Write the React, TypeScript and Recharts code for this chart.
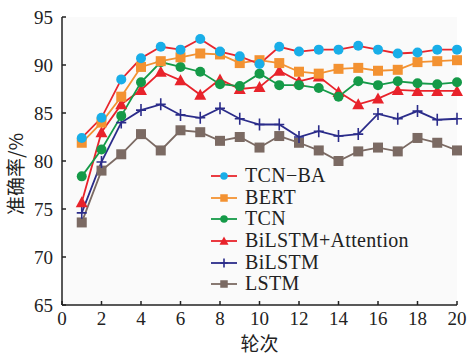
import { CartesianGrid, Line, LineChart, XAxis, YAxis } from "recharts";

// epochs on the x axis
const epochs = [1, 2, 3, 4, 5, 6, 7, 8, 9, 10, 11, 12, 13, 14, 15, 16, 17, 18, 19, 20];

// accuracy (%) per model
const tcnBa = [82.4, 84.5, 88.5, 90.7, 91.9, 91.6, 92.7, 91.4, 90.9, 90.1, 91.9, 91.4, 91.6, 91.6, 92.0, 91.6, 91.2, 91.3, 91.6, 91.6];
const bert = [81.9, 84.0, 86.7, 89.8, 90.4, 90.8, 91.2, 91.1, 90.2, 90.5, 90.2, 89.3, 89.1, 89.6, 89.7, 89.4, 89.5, 90.3, 90.4, 90.5];
const tcn = [78.4, 81.2, 84.7, 88.2, 90.3, 89.8, 89.3, 88.0, 87.8, 89.1, 87.9, 87.9, 87.6, 86.7, 88.3, 87.9, 88.3, 88.1, 88.0, 88.2];
const bilstmAtt = [75.7, 83.0, 85.9, 87.4, 89.3, 88.4, 86.9, 88.5, 87.5, 87.7, 89.4, 88.3, 88.8, 87.2, 85.9, 86.5, 87.4, 87.3, 87.3, 87.3];
const bilstm = [74.6, 79.9, 84.0, 85.3, 85.9, 84.8, 84.5, 85.5, 84.4, 83.8, 83.8, 82.5, 83.1, 82.6, 82.8, 84.9, 84.4, 85.2, 84.3, 84.4];
const lstm = [73.6, 79.0, 80.7, 82.8, 81.1, 83.2, 83.0, 82.1, 82.5, 81.4, 82.6, 81.9, 81.1, 80.0, 81.0, 81.4, 81.0, 82.4, 81.9, 81.1];

const xTicks = [0, 2, 4, 6, 8, 10, 12, 14, 16, 18, 20];
const yTicks = [65, 70, 75, 80, 85, 90, 95];

const data = epochs.map((e, i) => ({
  epoch: e,
  tcnBa: tcnBa[i],
  bert: bert[i],
  tcn: tcn[i],
  bilstmAtt: bilstmAtt[i],
  bilstm: bilstm[i],
  lstm: lstm[i],
}));

type Marker = "circle" | "square" | "triangle" | "plus";

type SeriesDef = {
  key: string;
  name: string;
  line: string;
  marker: Marker;
  markerColor: string;
};

// legend order (top to bottom)
const series: SeriesDef[] = [
  { key: "tcnBa", name: "TCN\u2212BA", line: "#e8262d", marker: "circle", markerColor: "#19aee8" },
  { key: "bert", name: "BERT", line: "#f39232", marker: "square", markerColor: "#f39232" },
  { key: "tcn", name: "TCN", line: "#159a48", marker: "circle", markerColor: "#159a48" },
  { key: "bilstmAtt", name: "BiLSTM+Attention", line: "#e8232b", marker: "triangle", markerColor: "#e8232b" },
  { key: "bilstm", name: "BiLSTM", line: "#2b2c8a", marker: "plus", markerColor: "#2b2c8a" },
  { key: "lstm", name: "LSTM", line: "#7b6a63", marker: "square", markerColor: "#7b6a63" },
];

const serif = "'Liberation Serif', 'DejaVu Serif', serif";
const cjk = "'Noto Sans CJK SC', sans-serif";

function markerShape(m: Marker, color: string, cx: number, cy: number, k = 1) {
  switch (m) {
    case "circle":
      return <circle cx={cx} cy={cy} r={5 * k} fill={color} />;
    case "square":
      return <rect x={cx - 5 * k} y={cy - 5 * k} width={10 * k} height={10 * k} fill={color} />;
    case "triangle":
      return (
        <path
          d={`M${cx},${cy - 6 * k} L${cx + 6 * k},${cy + 5 * k} L${cx - 6 * k},${cy + 5 * k} Z`}
          fill={color}
        />
      );
    case "plus":
      return (
        <path
          d={`M${cx - 5 * k},${cy} L${cx + 5 * k},${cy} M${cx},${cy - 6 * k} L${cx},${cy + 6 * k}`}
          stroke={color}
          strokeWidth={1.6}
          fill="none"
        />
      );
  }
}

function makeDot(s: SeriesDef) {
  return (props: any) => {
    const { cx, cy, index } = props;
    if (cx == null || cy == null) return <g key={index} />;
    return <g key={`${s.key}-${index}`}>{markerShape(s.marker, s.markerColor, cx, cy)}</g>;
  };
}

function LegendBox() {
  return (
    <div
      style={{
        position: "absolute",
        left: 211,
        top: 165,
        fontFamily: serif,
        fontSize: 20,
        lineHeight: "21.7px",
        color: "#222",
      }}
    >
      {series.map((s) => (
        <div key={s.key} style={{ display: "flex", alignItems: "center", height: 21.7 }}>
          <svg width={26} height={16} style={{ marginRight: 8 }}>
            <line x1={0} y1={8} x2={26} y2={8} stroke={s.line} strokeWidth={1.8} />
            {markerShape(s.marker, s.markerColor, 13, 8, 0.75)}
          </svg>
          <span style={{ letterSpacing: 0.3 }}>{s.name}</span>
        </div>
      ))}
    </div>
  );
}

export default function App() {
  // draw from bottom of legend upwards so TCN-BA sits on top
  const drawOrder = [...series].reverse();
  return (
    <div style={{ position: "relative", width: 468, height: 355 }}>
      <style>{`body{margin:0}`}</style>
      <LineChart width={468} height={355} data={data} margin={{ top: 17, right: 11, bottom: 0, left: 0 }}>
        <CartesianGrid horizontal={false} vertical={false} fill="#fafafa" />
        <XAxis
          dataKey="epoch"
          type="number"
          domain={[0, 20]}
          ticks={xTicks}
          height={50}
          stroke="#222"
          strokeWidth={1.5}
          tickSize={-4}
          tickMargin={11}
          tick={{ fill: "#222", fontSize: 19, fontFamily: serif }}
          label={{
            value: "轮次",
            position: "insideBottom",
            offset: 4,
            fill: "#222",
            fontSize: 19,
            fontFamily: cjk,
          }}
        />
        <YAxis
          type="number"
          domain={[65, 95]}
          ticks={yTicks}
          width={62}
          stroke="#222"
          strokeWidth={1.5}
          tickSize={-4}
          tickMargin={13}
          tick={{ fill: "#222", fontSize: 19, fontFamily: serif }}
          label={(props: any) => {
            const vb = props.viewBox;
            const x = vb.x + 14;
            const y = vb.y + vb.height / 2 + 13;
            return (
              <text
                x={x}
                y={y}
                transform={`rotate(-90, ${x}, ${y})`}
                textAnchor="middle"
                dominantBaseline="central"
                fill="#222"
                fontSize={19}
                fontFamily={cjk}
              >
                准确率/%
              </text>
            );
          }}
        />
        {drawOrder.map((s) => (
          <Line
            key={s.key}
            dataKey={s.key}
            name={s.name}
            type="linear"
            stroke={s.line}
            strokeWidth={1.8}
            dot={makeDot(s)}
            activeDot={false}
            isAnimationActive={false}
          />
        ))}
      </LineChart>
      <LegendBox />
    </div>
  );
}
